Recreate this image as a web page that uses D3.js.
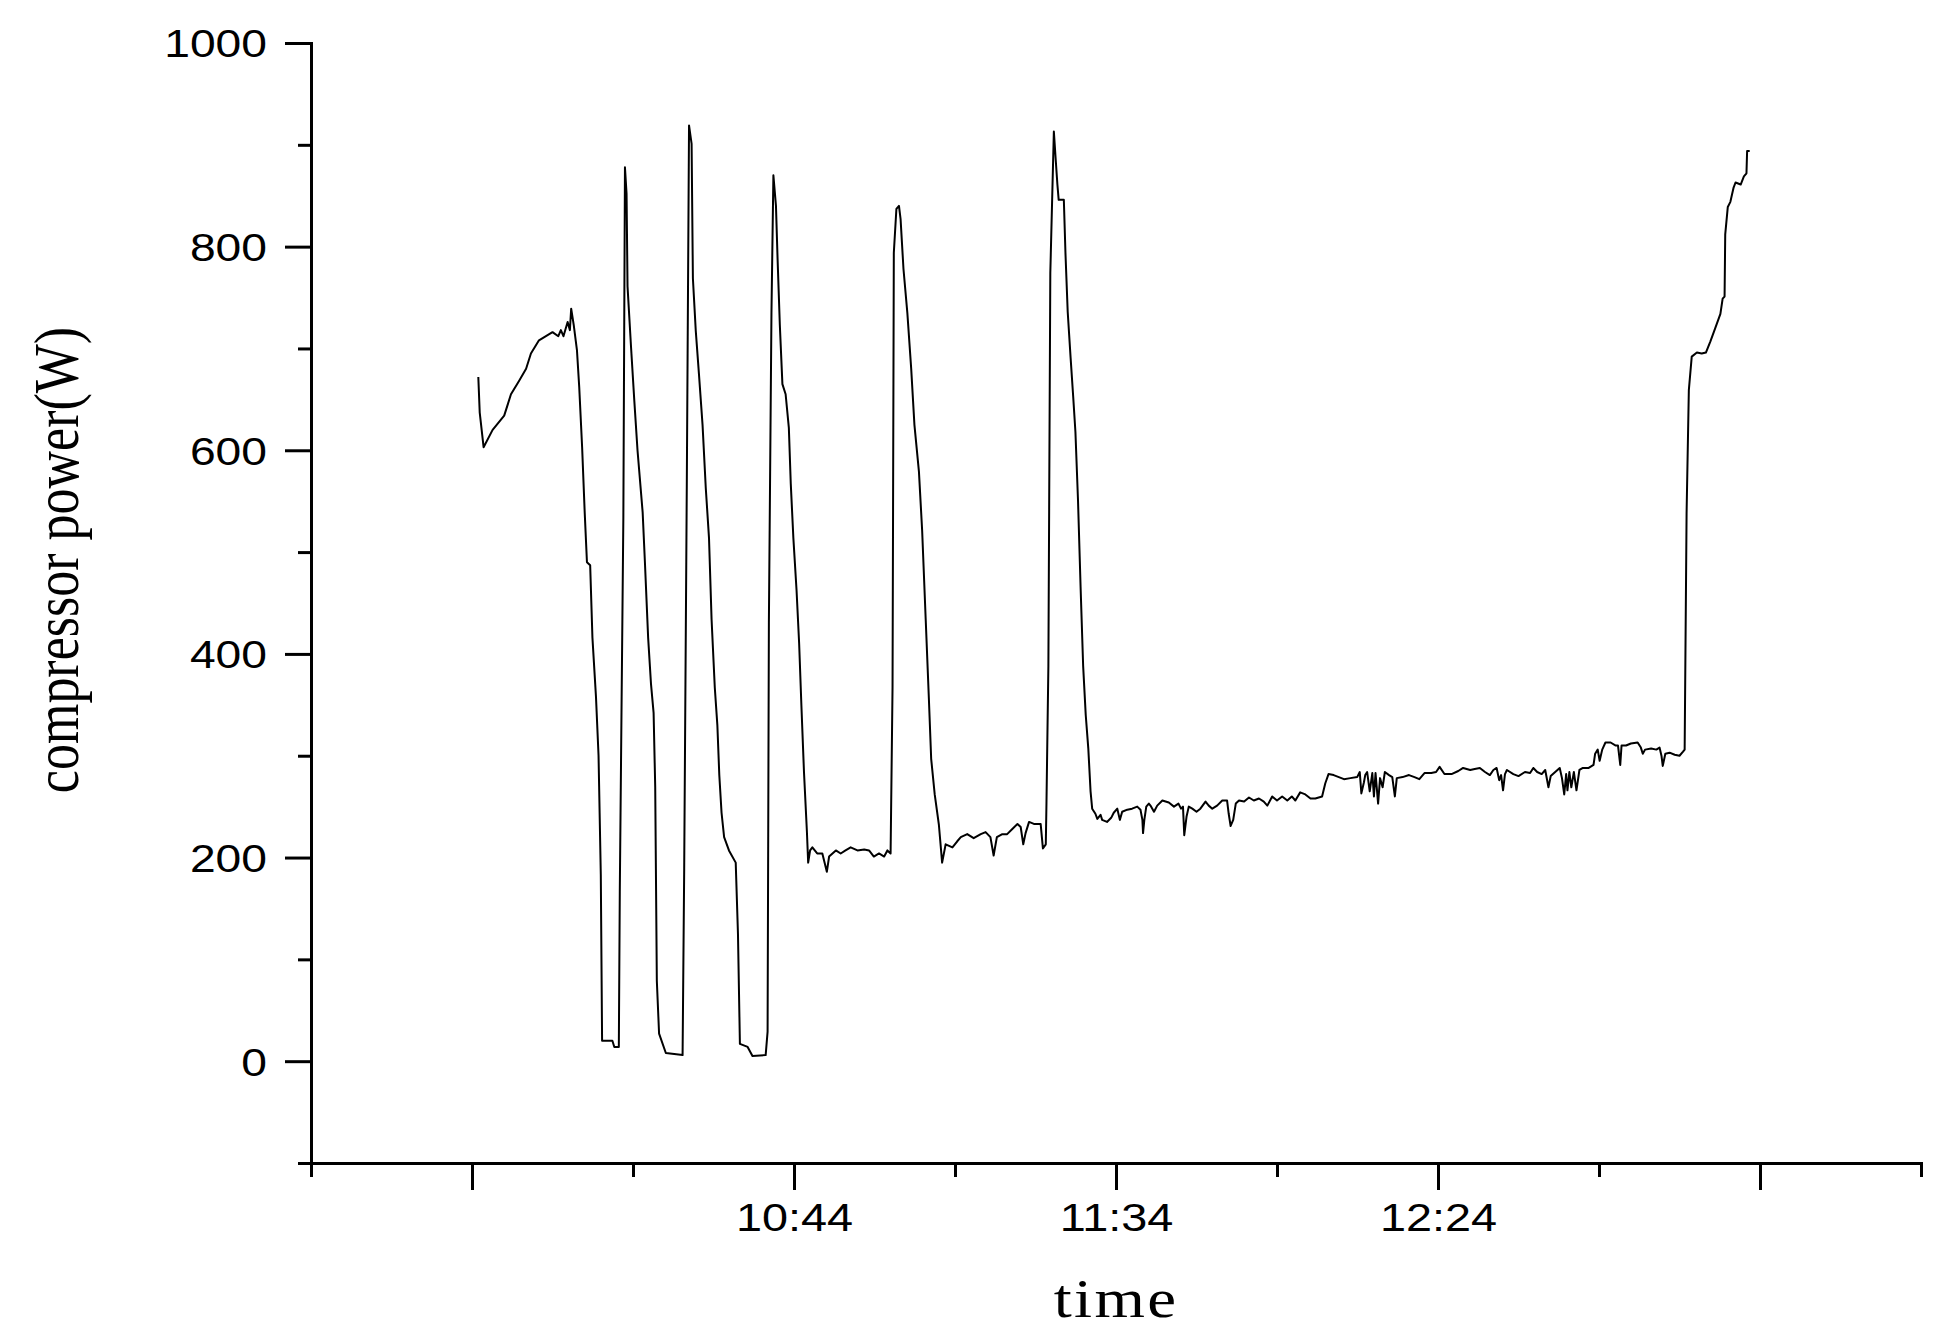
<!DOCTYPE html>
<html>
<head>
<meta charset="utf-8">
<script src="https://cdn.jsdelivr.net/npm/d3@7"></script>
<style>
  body { margin: 0; background: #fff; }
  svg { display: block; }
</style>
</head>
<body>
<div id="chart"></div>
<script>
// [clock time in minutes after midnight, compressor power in W]  (594 = 9:54)
const compressorPower = [
  [594.98, 672], [595.2, 637], [595.8, 603], [597.2, 620], [599.0, 634], [600.05, 655], [601.3, 668],
  [602.4, 680], [603.15, 695], [604.4, 708], [606.5, 716], [607.4, 712], [607.8, 718], [608.2, 712],
  [608.85, 726], [609.2, 718], [609.4, 739], [609.8, 723], [610.3, 698], [610.65, 662], [611.1, 603],
  [611.5, 539], [611.85, 490], [612.35, 487], [612.7, 416], [613.25, 358], [613.65, 300], [614.0, 183],
  [614.2, 20], [615.8, 20], [616.1, 14], [616.8, 14], [616.95, 167], [617.5, 533], [617.75, 878],
  [618.0, 852], [618.15, 761], [618.7, 701], [619.2, 649], [619.7, 600], [620.5, 539], [620.85, 490],
  [621.35, 416], [621.8, 370], [622.2, 342], [622.45, 269], [622.7, 79], [623.05, 27], [624.1, 8],
  [626.7, 6], [626.95, 189], [627.35, 563], [627.7, 919], [628.1, 901], [628.3, 769], [628.75, 717],
  [629.25, 674], [629.8, 625], [630.3, 563], [630.8, 514], [631.2, 434], [631.7, 367], [632.1, 330],
  [632.4, 281], [632.75, 244],
  [633.15, 220], [633.9, 207], [634.95, 195], [635.3, 125], [635.6, 17], [636.8, 14], [637.55, 5],
  [639.6, 6], [639.9, 29], [640.1, 431], [640.5, 735], [640.8, 870], [641.2, 840], [641.45, 788],
  [641.8, 723], [642.2, 665], [642.7, 655], [643.2, 622], [643.5, 567], [643.9, 514], [644.4, 462],
  [644.8, 410], [645.15, 349], [645.55, 284], [646.0, 226], [646.2, 195], [646.5, 207], [646.85, 210],
  [647.6, 204], [648.4, 204], [649.1, 186], [649.45, 201], [650.5, 207], [651.25, 204], [652.0, 207],
  [652.8, 210], [653.85, 207], [654.9, 208], [655.65, 207], [656.4, 201], [657.2, 204], [658.0, 201],
  [658.5, 207], [659.0, 204], [659.3, 367], [659.5, 794], [659.9, 837], [660.3, 840], [660.55, 827],
  [661.0, 778], [661.6, 735], [662.2, 680], [662.7, 625], [663.4, 579], [663.9, 521], [664.45, 434],
  [664.95, 355], [665.3, 297], [665.85, 262], [666.5, 232], [667.0, 195], [667.55, 213], [668.6, 210],
  [669.35, 216],
  [669.9, 220], [670.9, 223], [671.9, 219], [673.0, 223], [673.75, 225], [674.5, 220], [675.0, 202],
  [675.5, 220], [676.35, 223], [677.1, 223], [677.9, 228], [678.7, 233], [679.2, 230], [679.6, 213],
  [679.96, 224], [680.5, 235], [681.25, 233], [682.3, 233], [682.65, 209], [683.1, 213], [683.2, 252],
  [683.5, 388], [683.8, 774], [684.35, 913], [684.6, 889], [684.9, 861], [685.1, 846], [685.9, 846],
  [686.15, 794], [686.5, 736], [686.95, 691], [687.35, 653], [687.7, 618], [688.1, 551], [688.5, 466],
  [688.9, 388], [689.3, 340], [689.7, 307], [690.05, 265],
  [690.3, 248], [690.8, 243], [691.1, 238], [691.6, 242], [691.85, 237], [692.6, 235], [693.25, 239],
  [693.65, 244], [694.2, 248], [694.6, 237], [694.96, 245], [695.75, 247], [696.5, 248], [697.3, 250],
  [697.8, 247], [698.1, 237], [698.2, 224], [698.4, 237], [698.7, 250], [699.1, 253], [699.35, 251],
  [699.9, 245], [700.4, 251], [701.2, 256], [702.2, 254], [703.0, 250], [703.7, 253], [704.1, 248],
  [704.4, 250], [704.6, 222], [704.95, 240], [705.3, 250], [705.85, 248], [706.5, 245], [707.1, 248],
  [707.9, 255], [708.4, 251], [708.95, 248], [709.7, 251], [710.5, 256], [711.25, 256], [711.5, 243],
  [711.8, 231], [712.2, 237], [712.6, 253], [713.1, 256], [713.9, 255], [714.65, 259], [715.4, 256],
  [716.2, 258], [716.95, 255], [717.5, 251], [718.25, 260], [719.0, 256], [719.8, 260], [720.6, 256],
  [721.3, 260], [721.85, 256], [722.6, 264], [723.4, 262], [724.2, 258], [724.95, 258], [726.0, 260],
  [726.5, 273], [727.0, 282], [727.8, 281], [728.6, 279], [729.4, 277], [730.4, 278], [731.45, 279],
  [731.85, 284], [732.1, 263], [732.5, 274], [732.7, 281], [733.0, 284], [733.4, 265], [733.8, 283],
  [734.05, 260], [734.3, 283], [734.7, 253], [735.0, 278], [735.4, 269], [735.75, 284], [736.4, 281],
  [736.9, 279], [737.3, 260], [737.6, 278], [738.5, 279], [739.5, 281], [740.35, 279], [741.1, 277],
  [741.9, 283], [742.95, 283], [743.7, 284], [744.25, 289], [745.0, 282], [746.1, 282], [747.15, 285],
  [747.9, 288], [749.0, 286], [749.7, 287], [750.5, 288], [751.3, 284], [752.05, 281], [752.6, 286],
  [753.1, 288], [753.5, 276], [753.8, 281],
  [754.1, 266], [754.4, 282], [754.7, 286], [755.7, 282], [756.5, 280], [757.5, 284], [758.3, 283],
  [758.8, 288], [759.4, 284], [760.1, 282], [760.65, 286], [761.15, 269], [761.5, 280], [762.2, 284],
  [762.9, 288], [763.25, 278], [763.6, 262], [763.9, 282], [764.1, 266], [764.4, 284], [764.7, 269],
  [765.1, 284], [765.5, 266], [765.96, 286], [766.5, 288], [767.4, 288], [768.15, 291], [768.4, 302],
  [768.8, 306], [769.1, 295], [769.5, 306], [770.0, 313], [770.8, 313], [771.6, 310], [771.95, 310],
  [772.3, 291], [772.5, 310], [773.2, 310], [773.95, 312], [775.0, 313], [775.5, 308], [775.8, 302],
  [776.15, 306], [777.1, 307], [777.9, 306], [778.4, 308], [778.7, 300], [778.9, 290], [779.3, 302],
  [779.96, 303], [780.75, 301], [781.5, 300], [782.05, 304], [782.3, 306], [782.6, 538], [782.95, 659],
  [783.4, 692], [784.2, 696], [784.95, 695], [785.6, 696], [786.3, 707], [787.05, 720], [787.85, 734],
  [788.2, 749], [788.5, 751], [788.6, 812], [789.0, 839], [789.4, 844], [789.9, 858], [790.2, 863],
  [791.0, 861], [791.5, 869], [791.9, 872], [792.0, 894], [792.4, 894]
];

// axes
const yMajorTicks = [0, 200, 400, 600, 800, 1000];
const yMinorTicks = [-100, 100, 300, 500, 700, 900];
const xMajorTicks = [594, 644, 694, 744, 794];
const xMinorTicks = [569, 619, 669, 719, 769, 819];
const xTickLabels = ["", "10:44", "11:34", "12:24", ""];

const width = 1942;
const height = 1340;

const x = d3.scaleLinear().domain([569, 819]).range([311, 1921]);
const y = d3.scaleLinear().domain([-100, 1000]).range([1163, 43]);

const svg = d3.select("#chart")
    .append("svg")
    .attr("width", width)
    .attr("height", height);

svg.append("rect").attr("width", width).attr("height", height).attr("fill", "#fff");

// the text in the picture is drawn a little wide
const stretch = "scale(1.2,1)";

function styleAxis(g) {
    g.selectAll("path, line").attr("stroke", "#000").attr("stroke-width", 3);
    g.select(".domain").attr("stroke-linecap", "square");
}

// y axis
const yAxisG = svg.append("g")
    .attr("transform", "translate(311,0)")
    .call(d3.axisLeft(y).tickValues(yMajorTicks).tickSize(26).tickSizeOuter(0).tickPadding(18)
        .tickFormat(d3.format("d")))
    .call(styleAxis);
yAxisG.selectAll(".tick text")
    .attr("font-family", "'Liberation Sans', Arial, sans-serif")
    .attr("font-size", 38.5)
    .attr("fill", "#000")
    .attr("dy", "0.36em")
    .attr("transform", function () { return `translate(${this.getAttribute("x")},0) ${stretch}`; })
    .attr("x", 0);

svg.append("g")
    .attr("transform", "translate(311,0)")
    .call(d3.axisLeft(y).tickValues(yMinorTicks).tickSize(13).tickFormat(""))
    .call(g => g.select(".domain").remove())
    .call(styleAxis);

// x axis
const xAxisG = svg.append("g")
    .attr("transform", "translate(0,1163)")
    .call(d3.axisBottom(x).tickValues(xMajorTicks).tickSize(27).tickSizeOuter(0)
        .tickFormat((d, i) => xTickLabels[i]))
    .call(styleAxis);
xAxisG.selectAll(".tick text")
    .attr("font-family", "'Liberation Sans', Arial, sans-serif")
    .attr("font-size", 39)
    .attr("fill", "#000")
    .attr("y", 0)
    .attr("dy", "0.71em")
    .attr("transform", `translate(0,40) ${stretch}`);

svg.append("g")
    .attr("transform", "translate(0,1163)")
    .call(d3.axisBottom(x).tickValues(xMinorTicks).tickSize(14).tickFormat(""))
    .call(g => g.select(".domain").remove())
    .call(styleAxis);

// the curve
const line = d3.line()
    .x(d => x(d[0]))
    .y(d => y(d[1]));

svg.append("path")
    .datum(compressorPower)
    .attr("d", line)
    .attr("fill", "none")
    .attr("stroke", "#000")
    .attr("stroke-width", 2)
    .attr("stroke-linejoin", "round");

// axis titles
svg.append("text")
    .attr("transform", `translate(1116,1317) ${stretch}`)
    .attr("text-anchor", "middle")
    .attr("font-family", "'Liberation Serif', 'Times New Roman', serif")
    .attr("font-size", 54)
    .attr("letter-spacing", 2)
    .attr("fill", "#000")
    .text("time");

svg.append("text")
    .attr("transform", `translate(78,560) ${stretch} rotate(-90)`)
    .attr("text-anchor", "middle")
    .attr("font-family", "'Liberation Serif', 'Times New Roman', serif")
    .attr("font-size", 52)
    .attr("fill", "#000")
    .text("compressor power(W)");
</script>
</body>
</html>
